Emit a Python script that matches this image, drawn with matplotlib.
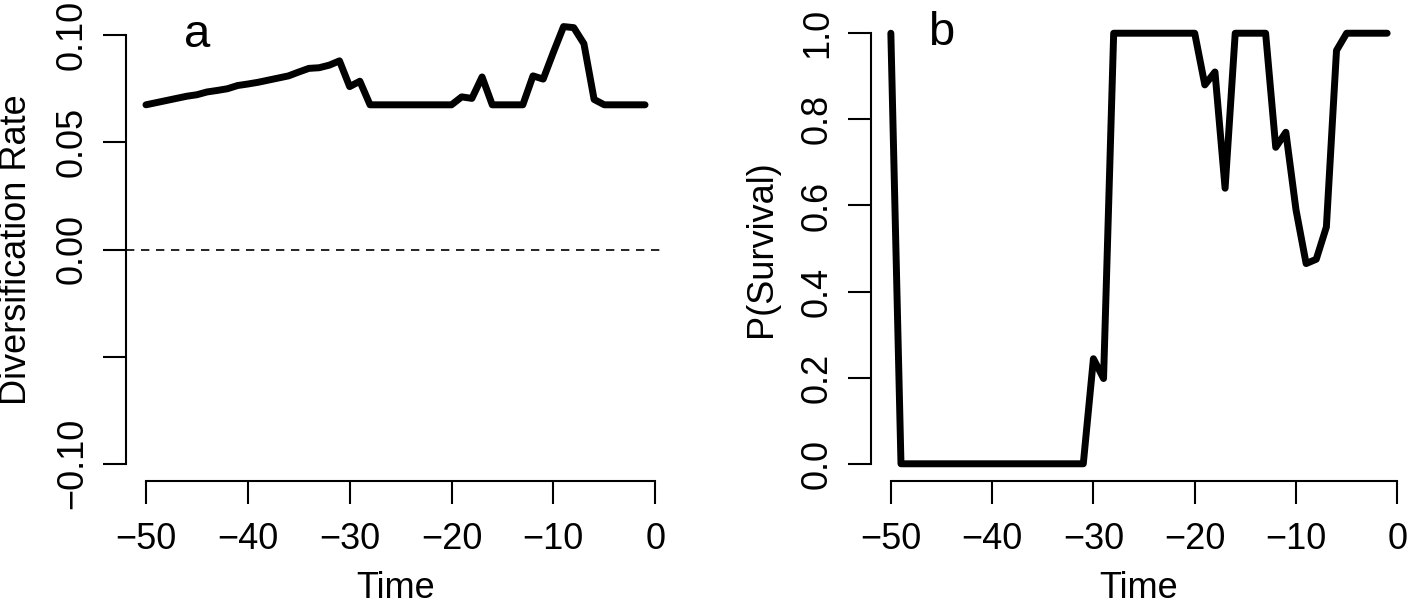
import matplotlib
matplotlib.use("Agg")
import matplotlib.pyplot as plt

plt.rcParams['font.family'] = ['Liberation Sans', 'DejaVu Sans']

# time points (both panels)
time = list(range(-50, 0))

# panel a: diversification rate
div_rate = [0.0675, 0.0685, 0.0695, 0.0705, 0.0715, 0.0722, 0.0735, 0.0742, 0.0750, 0.0765,
            0.0772, 0.0780, 0.0790, 0.0800, 0.0810, 0.0828, 0.0845, 0.0848, 0.0860, 0.0880,
            0.0760, 0.0785, 0.0675, 0.0675, 0.0675, 0.0675, 0.0675, 0.0675, 0.0675, 0.0675,
            0.0675, 0.0712, 0.0705, 0.0805, 0.0675, 0.0675, 0.0675, 0.0675, 0.0810, 0.0795,
            0.0920, 0.1040, 0.1035, 0.0960, 0.0700, 0.0675, 0.0675, 0.0675, 0.0675, 0.0675]

# panel b: probability of survival
p_surv = [1.0, 0.0, 0.0, 0.0, 0.0, 0.0, 0.0, 0.0, 0.0, 0.0,
          0.0, 0.0, 0.0, 0.0, 0.0, 0.0, 0.0, 0.0, 0.0, 0.0,
          0.244, 0.198, 1.0, 1.0, 1.0, 1.0, 1.0, 1.0, 1.0, 1.0,
          1.0, 0.88, 0.91, 0.64, 1.0, 1.0, 1.0, 1.0, 0.735, 0.77,
          0.59, 0.465, 0.475, 0.55, 0.96, 1.0, 1.0, 1.0, 1.0, 1.0]

xticks = [-50, -40, -30, -20, -10, 0]
yticks_a = [-0.10, -0.05, 0.00, 0.05, 0.10]
ylabels_a = ['\u22120.10', '', '0.00', '0.05', '0.10']
yticks_b = [0.0, 0.2, 0.4, 0.6, 0.8, 1.0]
ylabels_b = ['0.0', '0.2', '0.4', '0.6', '0.8', '1.0']

W, H = 1411, 607
fig = plt.figure(figsize=(W / 100, H / 100), dpi=100)

fs = 26


def style(ax, xt, yt, yl, w_px, h_px):
    for s in ['top', 'right']:
        ax.spines[s].set_visible(False)
    ax.spines['left'].set_linewidth(1.5)
    ax.spines['bottom'].set_linewidth(1.5)
    ax.spines['left'].set_bounds(yt[0], yt[-1])
    ax.spines['bottom'].set_bounds(xt[0], xt[-1])
    ax.set_xticks(xt)
    ax.set_xticklabels(['\u2212%d' % -v if v < 0 else '%d' % v for v in xt])
    ax.set_yticks(yt)
    ax.set_yticklabels(yl, rotation=90, va='center')
    ax.tick_params(length=16.5, width=1.5, labelsize=fs, direction='out')
    ax.tick_params(axis='y', pad=9.5)
    ax.tick_params(axis='x', pad=13)
    ax.xaxis.set_label_coords(0.5, -108 / h_px)
    ax.yaxis.set_label_coords(-109 / w_px, 0.5)


ax1 = fig.add_axes([126 / W, (H - 481) / H, 539 / W, 463 / H])
ax1.plot(time, div_rate, color='black', lw=5, solid_capstyle='round', solid_joinstyle='round')
ax1.axhline(0, color='black', lw=1.2, ls=(0, (5, 4)))
ax1.set_xlim(-51.96, 0.96)
ax1.set_ylim(-0.108, 0.108)
ax1.set_xlabel('Time', fontsize=fs, va='center')
ax1.set_ylabel('Diversification Rate', fontsize=fs, va='center')
style(ax1, xticks, yticks_a, ylabels_a, 539, 463)
ax1.text(-45, 0.1, 'a', fontsize=34, ha='center', va='center')

ax2 = fig.add_axes([871 / W, (H - 481) / H, 536 / W, 465 / H])
ax2.plot(time, p_surv, color='black', lw=5, solid_capstyle='round', solid_joinstyle='round')
ax2.set_xlim(-51.96, 0.96)
ax2.set_ylim(-0.04, 1.04)
ax2.set_xlabel('Time', fontsize=fs, va='center')
ax2.set_ylabel('P(Survival)', fontsize=fs, va='center')
style(ax2, xticks, yticks_b, ylabels_b, 536, 465)
ax2.text(-45, 1.0, 'b', fontsize=34, ha='center', va='center')

fig.savefig('out.png', dpi=100)
